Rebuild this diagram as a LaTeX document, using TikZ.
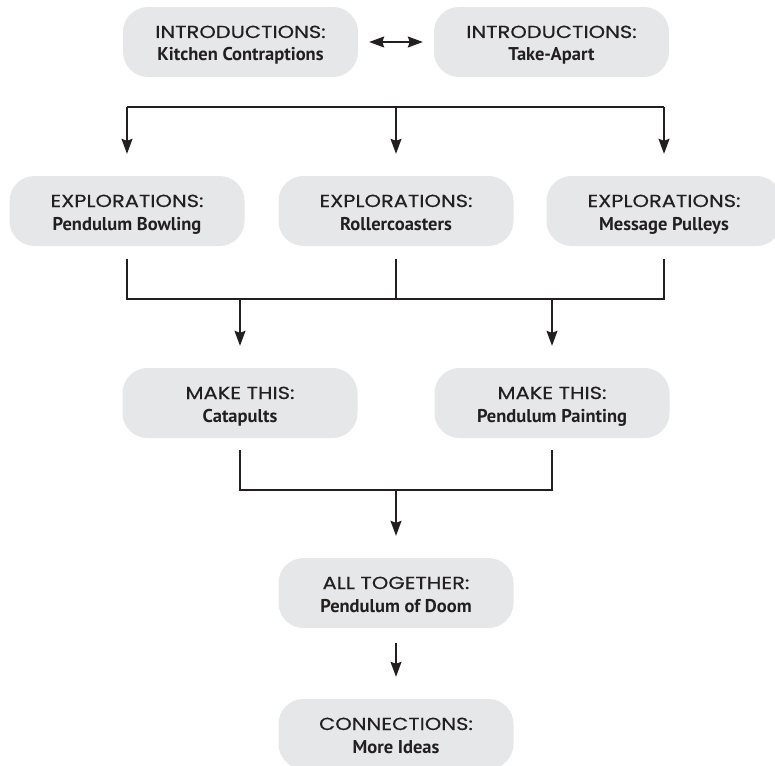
\documentclass[tikz,border=0pt]{standalone}
\usepackage{fontspec}
\setmainfont{Poppins}[FakeStretch=1.2,FakeBold=0.3]
\newfontfamily\bdfont{PT Sans}
\usetikzlibrary{arrows.meta}
\definecolor{ink}{HTML}{231F20}
\definecolor{boxgray}{HTML}{E6E7E8}
\newcommand{\boxtext}[2]{\parbox[c][70pt][t]{235pt}{\centering\rule{0pt}{31pt}#1\\{\bdfont\bfseries\fontsize{18.5}{23}\selectfont #2}}}
\begin{document}
\begin{tikzpicture}[x=1pt,y=-1pt,
  box/.style={fill=boxgray, rounded corners=25pt, minimum width=235pt, minimum height=70pt,
    inner sep=0pt, text=ink, font={\fontsize{17.5}{23}\selectfont}},
  conn/.style={draw=ink, line width=1.4pt},
  arr/.style={conn, -{Stealth[length=15pt,width=11pt,inset=2pt]}, shorten >=22pt},
  dbl/.style={conn, {Stealth[length=15pt,width=11pt,inset=2pt]}-{Stealth[length=15pt,width=11pt,inset=2pt]}, shorten >=11pt, shorten <=11pt}]
\useasboundingbox (0,0) rectangle (775,765);
\node[box] (i1) at (240.5,42) {\boxtext{INTRODUCTIONS:}{Kitchen Contraptions}};
\node[box] (i2) at (551.5,42) {\boxtext{INTRODUCTIONS:}{Take-Apart}};
\node[box] (e1) at (127,211) {\boxtext{EXPLORATIONS:}{Pendulum Bowling}};
\node[box] (e2) at (396,211) {\boxtext{EXPLORATIONS:}{Rollercoasters}};
\node[box] (e3) at (664,211) {\boxtext{EXPLORATIONS:}{Message Pulleys}};
\node[box] (m1) at (240,403) {\boxtext{MAKE THIS:}{Catapults}};
\node[box] (m2) at (552,403) {\boxtext{MAKE THIS:}{Pendulum Painting}};
\node[box] (at) at (396,593) {\boxtext{ALL TOGETHER:}{Pendulum of Doom}};
\node[box] (cn) at (396,734) {\boxtext{CONNECTIONS:}{More Ideas}};
\coordinate (topbar) at (0,107);
\coordinate (midbar) at (0,299);
\coordinate (lowbar) at (0,490);
\draw[dbl] (i1.east) -- (i2.west);
\draw[conn] (e1.north |- topbar) -- (e3.north |- topbar);
\draw[arr] (e1.north |- topbar) -- (e1.north);
\draw[arr] (e2.north |- topbar) -- (e2.north);
\draw[arr] (e3.north |- topbar) -- (e3.north);
\draw[conn] ([yshift=-13pt]e1.south) -- (e1.south |- midbar) -- (e3.south |- midbar) -- ([yshift=-13pt]e3.south);
\draw[conn] ([yshift=-13pt]e2.south) -- (e2.south |- midbar);
\draw[arr] (m1.north |- midbar) -- (m1.north);
\draw[arr] (m2.north |- midbar) -- (m2.north);
\draw[conn] ([yshift=-12pt]m1.south) -- (m1.south |- lowbar) -- (m2.south |- lowbar) -- ([yshift=-12pt]m2.south);
\draw[arr] (at.north |- lowbar) -- (at.north);
\draw[arr] ([yshift=-15pt]at.south) -- (cn.north);
\end{tikzpicture}
\end{document}
